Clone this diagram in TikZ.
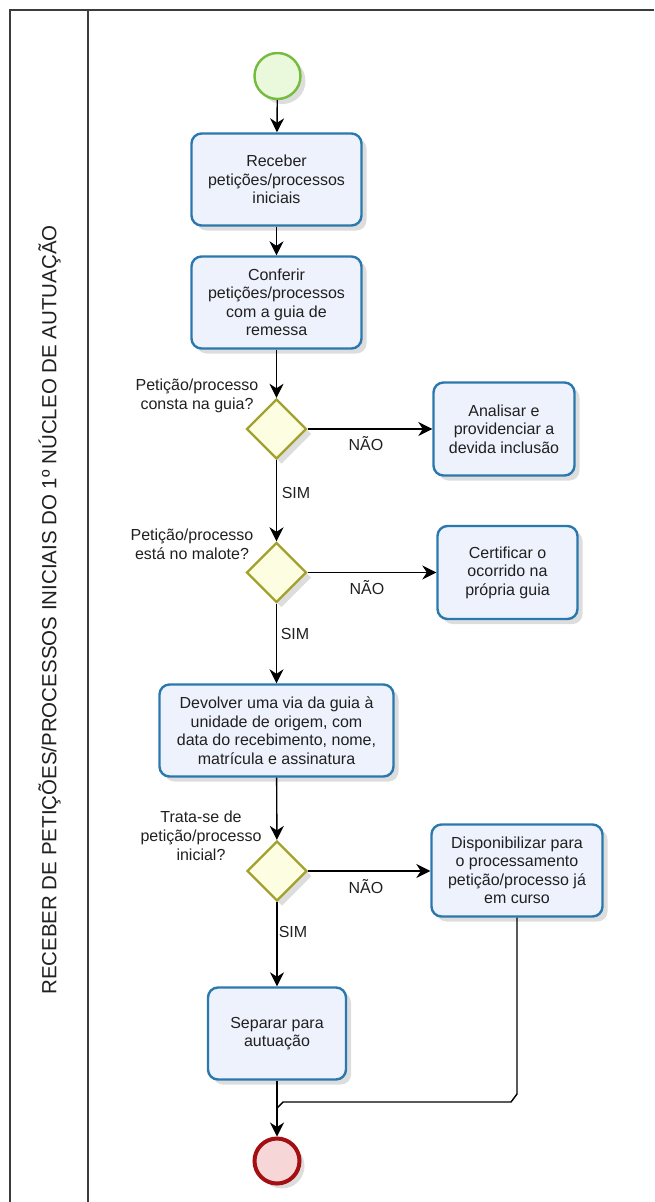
\documentclass[tikz,border=0pt]{standalone}
\usepackage{fontspec}
\setmainfont{Liberation Sans}
\usetikzlibrary{shapes.geometric,arrows.meta,shadows}
\definecolor{taskborder}{HTML}{2A78AE}
\definecolor{taskfill}{HTML}{EEF2FC}
\definecolor{gateborder}{HTML}{A3A12E}
\definecolor{gatefill}{HTML}{FDFDE2}
\definecolor{startborder}{HTML}{74BC3C}
\definecolor{startfill}{HTML}{EAF8DC}
\definecolor{endborder}{HTML}{A30F12}
\definecolor{endfill}{HTML}{F6D6D6}
\definecolor{framecol}{HTML}{3C3C3C}
\definecolor{txt}{HTML}{202020}
\begin{document}
\begin{tikzpicture}[x=1pt,y=-1pt,
  every node/.style={text=txt},
  shad/.style={drop shadow={shadow xshift=5pt,shadow yshift=-5pt,opacity=0.22,fill=black!60}},
  taskbox/.style={rectangle,rounded corners=10pt,draw=taskborder,line width=2.4pt,fill=taskfill,
    align=center,inner sep=2pt,font=\fontsize{16}{18.5}\selectfont,shad},
  gate/.style={diamond,aspect=1,draw=gateborder,line width=2.4pt,fill=gatefill,minimum size=60pt,inner sep=0pt,shad},
  startev/.style={circle,draw=startborder,line width=2.4pt,fill=startfill,minimum size=46pt,inner sep=0pt,shad},
  endev/.style={circle,draw=endborder,line width=4pt,fill=endfill,minimum size=45pt,inner sep=0pt,shad},
  lbl/.style={align=center,font=\fontsize{16}{19}\selectfont,inner sep=0pt},
  flow/.style={draw=black,line width=1.4pt,-{Stealth[length=14pt,width=14pt,inset=4.5pt]}},
  plain/.style={draw=black,line width=1.4pt},
  frame/.style={draw=framecol,line width=2.2pt}
]
\useasboundingbox (0,0) rectangle (654,1202);
\draw[frame] (10,1202) -- (10,10) -- (654,10);
\draw[frame] (88,10) -- (88,1202);
\node[rotate=90,font=\fontsize{20.5}{23}\selectfont,inner sep=0pt] (lane) at (49.5,610) {RECEBER DE PETIÇÕES/PROCESSOS INICIAIS DO 1º NÚCLEO DE AUTUAÇÃO};

\node[startev] (start) at (277.5,76) {};
\node[taskbox,minimum width=170pt,minimum height=92pt] (t1) at (276.5,179.5) {Receber\\petições/processos\\iniciais};
\node[taskbox,minimum width=170pt,minimum height=92pt] (t2) at (276.5,302.5) {Conferir\\petições/processos\\com a guia de\\remessa};
\node[gate] (d1) at (276.5,429) {};
\node[taskbox,minimum width=141pt,minimum height=93pt] (a1) at (504,429) {Analisar e\\providenciar a\\devida inclusão};
\node[gate] (d2) at (276.5,572.5) {};
\node[taskbox,minimum width=140pt,minimum height=93pt] (c1) at (507.5,572.5) {Certificar o\\ocorrido na\\própria guia};
\node[taskbox,minimum width=234pt,minimum height=92pt] (dv) at (276.5,730.5) {Devolver uma via da guia à\\unidade de origem, com\\data do recebimento, nome,\\matrícula e assinatura};
\node[gate] (d3) at (277,871) {};
\node[taskbox,minimum width=171pt,minimum height=92pt] (disp) at (517,870.5) {Disponibilizar para\\o processamento\\petição/processo já\\em curso};
\node[taskbox,minimum width=138pt,minimum height=92pt] (sep) at (277,1033.5) {Separar para\\autuação};
\node[endev] (end) at (277,1161) {};

\node[lbl] (q1) at (197,396) {Petição/processo\\consta na guia?};
\node[lbl] (q2) at (192,544) {Petição/processo\\está no malote?};
\node[lbl] (q3) at (201,836) {Trata-se de\\petição/processo\\inicial?};
\node[lbl] (n1) at (366,444) {NÃO};
\node[lbl] (n2) at (367,588) {NÃO};
\node[lbl] (n3) at (366,887) {NÃO};
\node[lbl] (s1) at (296,493) {SIM};
\node[lbl] (s2) at (295,634) {SIM};
\node[lbl] (s3) at (293,932) {SIM};

\draw[flow] (start) -- (t1);
\draw[flow] (t1) -- (t2);
\draw[flow] (t2) -- (d1);
\draw[flow] (d1.east) -- (a1.west);
\draw[flow] (d1) -- (d2);
\draw[flow] (d2.east) -- (d2.east -| c1.west);
\draw[flow] (d2) -- (dv);
\draw[flow] (dv) -- (d3);
\draw[flow] (d3.east) -- (d3.east -| disp.west);
\draw[flow] (d3) -- (sep);
\draw[flow] (sep) -- (end);
\coordinate (j1) at (517,1094);
\coordinate (j2) at (511,1102);
\coordinate (j3) at (283,1102);
\coordinate (j4) at (277,1108);
\draw[plain] (disp.south) -- (j1) -- (j2) -- (j3) -- (j4);
\end{tikzpicture}
\end{document}
